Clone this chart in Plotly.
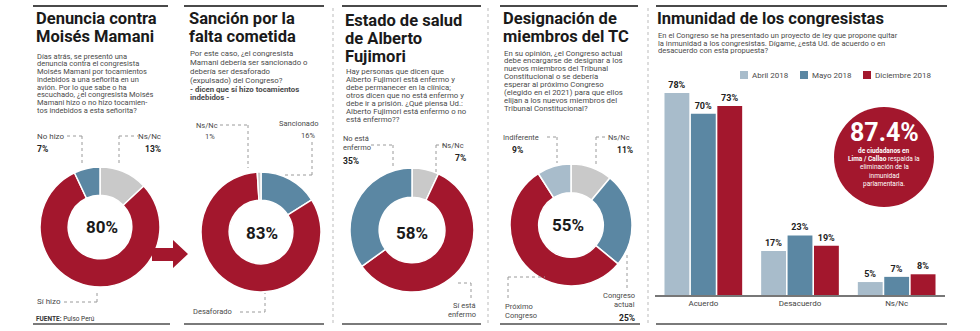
import plotly.graph_objects as go

W, H = 980, 331
RED = "#a3172d"
BLUE = "#5b87a3"
LGRAY = "#c9c9c9"
LBLUE = "#a8bccb"
DOT = "#9a9a9a"
RULE = "#4a4a4a"
TITLE_FONT = "Roboto, Arial, sans-serif"
BODY_FONT = "Roboto, Arial, sans-serif"
NUM_FONT = "Roboto, Arial, sans-serif"
TSIZE = 16.5

# ---------------- data ----------------
p1_labels = ["Ns/Nc", "Sí hizo", "No hizo"]
p1_values = [13, 80, 7]
p1_colors = [LGRAY, RED, BLUE]

p2_labels = ["Sancionado", "Desaforado", "Ns/Nc"]
p2_values = [16, 83, 1]
p2_colors = [BLUE, RED, LGRAY]

p3_labels = ["Ns/Nc", "Sí está enfermo", "No está enfermo"]
p3_values = [7, 58, 35]
p3_colors = [LGRAY, RED, BLUE]

p4_labels = ["Ns/Nc", "Congreso actual", "Próximo Congreso", "Indiferente"]
p4_values = [11, 25, 55, 9]
p4_colors = [LGRAY, BLUE, RED, LBLUE]

bar_categories = ["Acuerdo", "Desacuerdo", "Ns/Nc"]
abril_2018 = [78, 17, 5]
mayo_2018 = [70, 23, 7]
diciembre_2018 = [73, 19, 8]
series_names = ["Abril 2018", "Mayo 2018", "Diciembre 2018"]
series_colors = [LBLUE, BLUE, RED]

# ---------------- helpers ----------------
def px(x):
    return x / W

def py(y):
    return 1 - y / H

annotations = []
shapes = []

def txt(x, y, s, size=8, color="#4a4a4a", anchor="left", family=BODY_FONT):
    annotations.append(dict(x=px(x), y=py(y), xref="paper", yref="paper", text=s,
                            showarrow=False, xanchor=anchor, yanchor="middle",
                            borderpad=0,
                            font=dict(size=size, color=color, family=family)))

def lines(x, y0, step, rows, size=7.8, color="#4a4a4a", family=BODY_FONT):
    for i, r in enumerate(rows):
        txt(x, y0 + i * step, r, size=size, color=color, family=family)

def seg(x0, y0, x1, y1, color=DOT, width=1, dash="dot"):
    shapes.append(dict(type="line", xref="paper", yref="paper",
                       x0=px(x0), y0=py(y0), x1=px(x1), y1=py(y1),
                       line=dict(color=color, width=width, dash=dash)))

fig = go.Figure()

def donut(labels, values, colors, cx, cy, r):
    fig.add_trace(go.Pie(labels=labels, values=values, sort=False, direction="clockwise",
                         rotation=0, hole=0.53, textinfo="none", hoverinfo="label+percent",
                         marker=dict(colors=colors, line=dict(color="white", width=1.5)),
                         domain=dict(x=[px(cx - r), px(cx + r)], y=[py(cy + r), py(cy - r)]),
                         showlegend=False))

# ---------------- donuts ----------------
donut(p1_labels, p1_values, p1_colors, 100, 227, 60)
donut(p2_labels, p2_values, p2_colors, 261, 232, 60)
donut(p3_labels, p3_values, p3_colors, 412, 230, 62)
donut(p4_labels, p4_values, p4_colors, 571, 225, 61)

txt(102, 227, "<b>%d%%</b>" % p1_values[1], size=17, color="#1a1a1a", anchor="center", family=NUM_FONT)
txt(262, 233, "<b>%d%%</b>" % p2_values[1], size=17, color="#1a1a1a", anchor="center", family=NUM_FONT)
txt(412, 233, "<b>%d%%</b>" % p3_values[1], size=17, color="#1a1a1a", anchor="center", family=NUM_FONT)
txt(568, 225, "<b>%d%%</b>" % p4_values[2], size=17, color="#1a1a1a", anchor="center", family=NUM_FONT)

# ---------------- bars ----------------
for name, vals, col in zip(series_names, [abril_2018, mayo_2018, diciembre_2018], series_colors):
    fig.add_trace(go.Bar(x=bar_categories, y=vals, name=name, marker=dict(color=col, line=dict(width=0)),
                         text=["<b>%d%%</b>" % v for v in vals], textposition="outside",
                         textfont=dict(size=9, color="#222", family=NUM_FONT),
                         constraintext="none", cliponaxis=False, showlegend=False))

# ---------------- rules ----------------
for x0, x1 in [(33, 168), (184, 324), (342, 481), (500, 638), (656, 947)]:
    seg(x0, 6, x1, 6, color=RULE, width=2, dash="solid")
for x0, x1 in [(33, 170), (184, 324), (342, 481), (500, 640), (656, 947)]:
    seg(x0, 324, x1, 324, color="#7a7a7a", width=2, dash="solid")
for xv in [333, 488, 648]:
    seg(xv, 8, xv, 326, color="#bbbbbb", width=1, dash="dot")

# ---------------- panel 1 ----------------
txt(35, 19, "<b>Denuncia contra</b>", size=TSIZE, color="#1a1a1a", family=TITLE_FONT)
txt(35, 37, "<b>Moisés Mamani</b>", size=TSIZE, color="#1a1a1a", family=TITLE_FONT)
lines(36, 56, 7.8, [
    "Días atrás, se presentó una",
    "denuncia contra el congresista",
    "Moisés Mamani por tocamientos",
    "indebidos a una señorita en un",
    "avión. Por lo que sabe o ha",
    "escuchado, ¿el congresista Moisés",
    "Mamani hizo o no hizo tocamien-",
    "tos indebidos a esta señorita?",
], size=7.5)
txt(36, 136, p1_labels[2], size=8)
txt(36, 149, "<b>%d%%</b>" % p1_values[2], size=8.5, color="#222")
seg(67, 136, 82, 136); seg(82, 136, 82, 163)
txt(162, 136, p1_labels[0], size=8, anchor="right")
txt(162, 149, "<b>%d%%</b>" % p1_values[0], size=8.5, color="#222", anchor="right")
seg(119, 136, 138, 136); seg(119, 136, 119, 163)
txt(36, 301, p1_labels[1], size=8)
seg(64, 302, 97, 302); seg(97, 302, 97, 290)
txt(35, 319, "<b>FUENTE:</b> Pulso Perú", size=6.5, color="#333")

# arrow
ax = [152, 173, 173, 188, 173, 173, 152]
ay = [248, 248, 240, 254, 268, 261, 261]
path = "M " + " L ".join("%f,%f" % (px(a), py(b)) for a, b in zip(ax, ay)) + " Z"
shapes.append(dict(type="path", xref="paper", yref="paper", path=path,
                   fillcolor=RED, line=dict(width=0)))

# ---------------- panel 2 ----------------
txt(188, 19, "<b>Sanción por la</b>", size=TSIZE, color="#1a1a1a", family=TITLE_FONT)
txt(188, 37, "<b>falta cometida</b>", size=TSIZE, color="#1a1a1a", family=TITLE_FONT)
lines(189, 54, 8.8, [
    "Por este caso, ¿el congresista",
    "Mamani debería ser sancionado o",
    "debería ser desaforado",
    "(expulsado) del Congreso?",
    "<b>- dicen que sí hizo tocamientos</b>",
    "<b>indebidos -</b>",
])
txt(195, 125, p2_labels[2], size=7.5)
txt(210, 136, "%d%%" % p2_values[2], size=7.5, anchor="center")
seg(220, 125, 248, 125); seg(248, 125, 248, 168)
txt(319, 123, p2_labels[0], size=7.5, anchor="right")
txt(316, 135, "%d%%" % p2_values[0], size=7.5, anchor="right")
seg(312, 142, 312, 175); seg(312, 175, 283, 175)
txt(192, 311, p2_labels[1], size=7.5)
seg(240, 312, 265, 312); seg(265, 312, 265, 293)

# ---------------- panel 3 ----------------
txt(344, 20, "<b>Estado de salud</b>", size=TSIZE, color="#1a1a1a", family=TITLE_FONT)
txt(344, 38, "<b>de Alberto</b>", size=TSIZE, color="#1a1a1a", family=TITLE_FONT)
txt(344, 56, "<b>Fujimori</b>", size=TSIZE, color="#1a1a1a", family=TITLE_FONT)
lines(345, 72, 7.9, [
    "Hay personas que dicen que",
    "Alberto Fujimori está enfermo y",
    "debe permanecer en la clínica;",
    "otros dicen que no está enfermo y",
    "debe ir a prisión. ¿Qué piensa Ud.:",
    "Alberto Fujimori está enfermo o no",
    "está enfermo??",
])
txt(342, 138, "No está", size=7.5)
txt(342, 147, "enfermo", size=7.5)
txt(342, 161, "<b>%d%%</b>" % p3_values[2], size=8.5, color="#222")
seg(371, 145, 393, 145); seg(393, 145, 393, 166)
txt(465, 145, p3_labels[0], size=7.5, anchor="right")
txt(467, 158, "<b>%d%%</b>" % p3_values[0], size=8.5, color="#222", anchor="right")
seg(436, 145, 445, 145); seg(436, 145, 436, 172)
txt(477, 305, "Sí está", size=7.5, anchor="right")
txt(477, 314, "enfermo", size=7.5, anchor="right")
seg(458, 283, 471, 283); seg(471, 283, 471, 298)

# ---------------- panel 4 ----------------
txt(502, 19, "<b>Designación de</b>", size=TSIZE, color="#1a1a1a", family=TITLE_FONT)
txt(502, 37, "<b>miembros del TC</b>", size=TSIZE, color="#1a1a1a", family=TITLE_FONT)
lines(503, 53, 7.86, [
    "En su opinión, ¿el Congreso actual",
    "debe encargarse de designar a los",
    "nuevos miembros del Tribunal",
    "Constitucional o se debería",
    "esperar al próximo Congreso",
    "(elegido en el 2021) para que ellos",
    "elijan a los nuevos miembros del",
    "Tribunal Constitucional?",
])
txt(502, 137, p4_labels[3], size=7.5)
txt(511, 150, "<b>%d%%</b>" % p4_values[3], size=8.5, color="#222")
seg(547, 137, 557, 137); seg(557, 137, 557, 163)
txt(631, 137, p4_labels[0], size=7.5, anchor="right")
txt(634, 150, "<b>%d%%</b>" % p4_values[0], size=8.5, color="#222", anchor="right")
seg(596, 137, 605, 137); seg(596, 137, 596, 165)
txt(636, 295, "Congreso", size=7.5, anchor="right")
txt(636, 304, "actual", size=7.5, anchor="right")
txt(636, 318, "<b>%d%%</b>" % p4_values[1], size=8.5, color="#222", anchor="right")
seg(627, 255, 627, 288)
txt(504, 306, "Próximo", size=7.5)
txt(504, 315, "Congreso", size=7.5)
seg(508, 277, 545, 277); seg(508, 277, 508, 299)

# ---------------- panel 5 ----------------
txt(656, 19, "<b>Inmunidad de los congresistas</b>", size=TSIZE, color="#1a1a1a", family=TITLE_FONT)
lines(657, 35, 8, [
    "En el Congreso se ha presentado un proyecto de ley que propone quitar",
    "la inmunidad a los congresistas. Dígame, ¿está Ud. de acuerdo o en",
    "desacuerdo con esta propuesta?",
], size=7.6)
for lx, name, col in zip([744, 804, 867], series_names, series_colors):
    shapes.append(dict(type="rect", xref="paper", yref="paper",
                       x0=px(lx - 4), x1=px(lx + 4), y0=py(79), y1=py(71),
                       fillcolor=col, line=dict(width=0)))
    txt(lx + 7, 75, name, size=8)

# circle
cx, cy, cr = 884, 157, 50
shapes.append(dict(type="circle", xref="paper", yref="paper",
                   x0=px(cx - cr), x1=px(cx + cr), y0=py(cy + cr), y1=py(cy - cr),
                   fillcolor=RED, line=dict(width=0)))
txt(cx, 132, "<b>87.4%</b>", size=25, color="white", anchor="center", family=NUM_FONT)
for yy, s in zip([151, 159, 167, 176, 184], [
        "<b>de ciudadanos en</b>",
        "<b>Lima / Callao</b> respalda la",
        "eliminación de la",
        "inmunidad",
        "parlamentaria."]):
    txt(cx, yy, s, size=6.5, color="white", anchor="center")

fig.update_layout(
    width=W, height=H, margin=dict(l=0, r=0, t=0, b=0),
    paper_bgcolor="white", plot_bgcolor="white",
    barmode="group", bargap=0.18, bargroupgap=0.06,
    xaxis=dict(domain=[px(655), px(945)], showgrid=False, zeroline=False,
               showline=True, linecolor="#777", linewidth=1.5, ticks="",
               tickfont=dict(size=8, color="#444", family=BODY_FONT),
               range=[-0.5, 2.5]),
    yaxis=dict(domain=[py(295), py(36)], range=[0, 100], visible=False),
    annotations=annotations, shapes=shapes,
    font=dict(family=BODY_FONT),
)

fig.write_html("out.html")
